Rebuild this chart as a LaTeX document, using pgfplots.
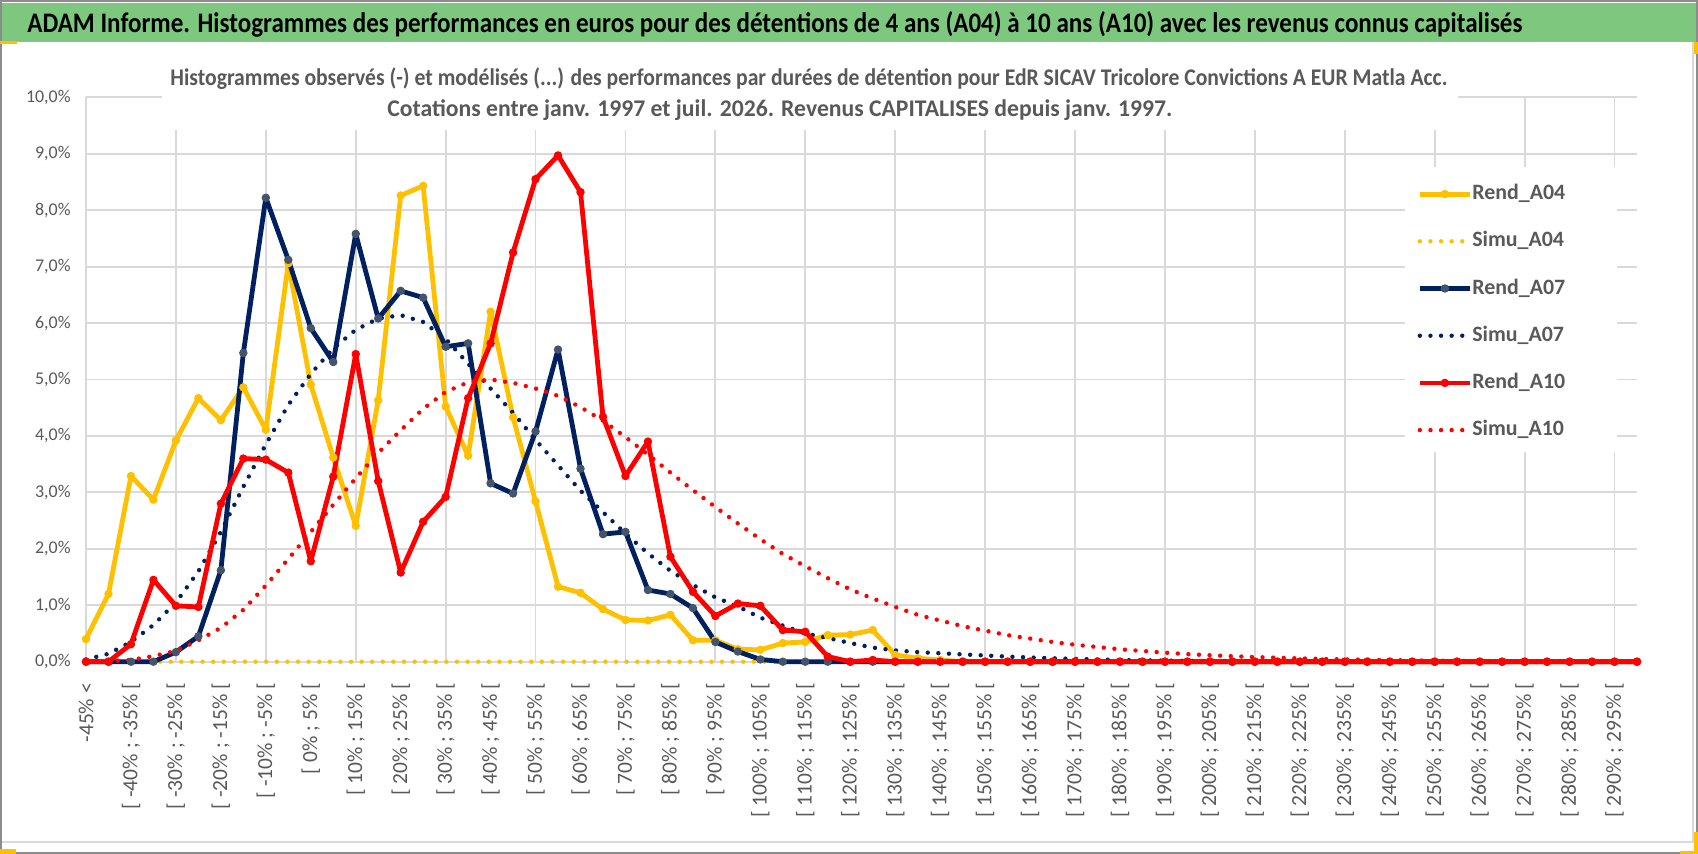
\documentclass[border=0pt]{standalone}
\usepackage{graphicx}
\usepackage{fontspec}
\setmainfont{Carlito}
\usepackage{pgfplots}
\usepackage{pgfplotstable}
\pgfplotsset{compat=1.18}

\definecolor{cgold}{HTML}{FFC000}
\definecolor{cnavy}{HTML}{002060}
\definecolor{cred}{HTML}{FF0000}
\definecolor{cmark}{HTML}{44546A}
\definecolor{ctext}{HTML}{595959}
\definecolor{cgrid}{HTML}{D9D9D9}
\definecolor{cgreen}{HTML}{7DC87E}
\definecolor{cborder}{HTML}{8C8C8C}

\pgfplotstableread{
i ra04 sa04 ra07 sa07 ra10 sa10
0 0.40 0 0 0.04 0 0
1 1.20 0 0 0.14 0 0.01
2 3.29 0 0 0.35 0.31 0.03
3 2.87 0 0 0.65 1.45 0.10
4 3.92 0 0.17 1.05 0.99 0.19
5 4.67 0 0.45 1.60 0.97 0.38
6 4.28 0 1.62 2.30 2.80 0.60
7 4.86 0 5.47 3.10 3.60 0.92
8 4.11 0 8.22 3.85 3.58 1.35
9 7.06 0 7.12 4.55 3.35 1.82
10 4.91 0 5.91 5.10 1.78 2.30
11 3.62 0 5.31 5.55 3.28 2.78
12 2.41 0 7.58 5.88 5.45 3.25
13 4.63 0 6.08 6.08 3.20 3.70
14 8.26 0 6.57 6.14 1.58 4.10
15 8.43 0 6.45 6.02 2.48 4.48
16 4.52 0 5.58 5.72 2.92 4.78
17 3.65 0 5.64 5.28 4.67 4.95
18 6.20 0 3.16 4.84 5.64 5.00
19 4.33 0 2.98 4.41 7.25 4.94
20 2.84 0 4.08 3.93 8.55 4.84
21 1.33 0 5.53 3.48 8.97 4.71
22 1.22 0 3.42 3.03 8.32 4.51
23 0.93 0 2.26 2.65 4.34 4.27
24 0.74 0 2.30 2.27 3.29 3.98
25 0.73 0 1.27 1.92 3.90 3.67
26 0.83 0 1.20 1.61 1.86 3.35
27 0.38 0 0.95 1.36 1.24 3.04
28 0.38 0 0.35 1.14 0.81 2.74
29 0.22 0 0.18 0.98 1.03 2.45
30 0.21 0 0.04 0.78 0.99 2.17
31 0.33 0 0 0.64 0.56 1.91
32 0.35 0 0 0.50 0.53 1.69
33 0.47 0 0 0.42 0.09 1.48
34 0.48 0 0 0.33 0 1.28
35 0.56 0 0 0.25 0.03 1.12
36 0.12 0 0 0.20 0 0.97
37 0.06 0 0 0.17 0 0.83
38 0.03 0 0 0.15 0 0.73
39 0 0 0 0.13 0 0.63
40 0 0 0 0.11 0 0.55
41 0 0 0 0.09 0 0.47
42 0 0 0 0.075 0 0.41
43 0 0 0 0.06 0 0.35
44 0 0 0 0.05 0 0.30
45 0 0 0 0.04 0 0.26
46 0 0 0 0.03 0 0.22
47 0 0 0 0.025 0 0.19
48 0 0 0 0.02 0 0.16
49 0 0 0 0.015 0 0.135
50 0 0 0 0.01 0 0.115
51 0 0 0 0.01 0 0.097
52 0 0 0 0.005 0 0.082
53 0 0 0 0 0 0.07
54 0 0 0 0 0 0.058
55 0 0 0 0 0 0.049
56 0 0 0 0 0 0.041
57 0 0 0 0 0 0.034
58 0 0 0 0 0 0.028
59 0 0 0 0 0 0.023
60 0 0 0 0 0 0.019
61 0 0 0 0 0 0.015
62 0 0 0 0 0 0.012
63 0 0 0 0 0 0.01
64 0 0 0 0 0 0.008
65 0 0 0 0 0 0.006
66 0 0 0 0 0 0.005
67 0 0 0 0 0 0.004
68 0 0 0 0 0 0.003
69 0 0 0 0 0 0.002
}\data

\begin{document}
\begin{tikzpicture}
\useasboundingbox (0,0) rectangle (849bp,427bp);
\fill[white] (0,0) rectangle (849bp,427bp);
% title band
\fill[cgreen] (0.5bp,406bp) rectangle (848.5bp,425.5bp);
\node[anchor=base west, inner sep=0pt] at (13.5bp,410.5bp)
  {\resizebox{747.5bp}{\height}{\fontsize{14.2}{16}\selectfont\bfseries ADAM Informe. Histogrammes des performances en euros pour des détentions de 4 ans (A04) à 10 ans (A10) avec les revenus connus capitalisés}};
% frames
\draw[cgrid, line width=0.8bp] (0.5bp,6bp) -- (846.5bp,6bp) -- (846.5bp,406bp);
\draw[cborder, line width=0.8bp] (0.4bp,0.4bp) rectangle (848.6bp,426.6bp);
\fill[cgold] (0,405bp) rectangle (8.5bp,406.6bp);
\fill[cgold] (0,0) rectangle (8bp,2.5bp);
\fill[cgold] (847bp,0) rectangle (849bp,11bp);
\fill[cgold] (840bp,0) rectangle (849bp,1.5bp);
\fill[cgold] (847bp,400bp) rectangle (849bp,406bp);

\begin{axis}[
  at={(43bp,96.15bp)}, anchor=south west,
  scale only axis, width=775.5bp, height=282.2bp,
  xmin=0, xmax=69, ymin=0, ymax=10,
  clip=false,
  axis line style={draw=none},
  major tick length=0pt, minor tick length=0pt,
  ytick={0,1,...,10},
  ymajorgrids,
  grid style={cgrid, line width=0.9bp},
  yticklabel={\pgfmathprintnumber[fixed,fixed zerofill,precision=1,use comma,assume math mode=true]{\tick}\%},
  yticklabel style={font=\fontsize{9}{10}\selectfont, text=ctext, anchor=east, inner sep=0pt},
  yticklabel shift=7.5bp,
  xtick={0,2,...,68},
  xticklabels={{-45\% <},{[ -40\% ; -35\% [},{[ -30\% ; -25\% [},{[ -20\% ; -15\% [},{[ -10\% ; -5\% [},{[ 0\% ; 5\% [},{[ 10\% ; 15\% [},{[ 20\% ; 25\% [},{[ 30\% ; 35\% [},{[ 40\% ; 45\% [},{[ 50\% ; 55\% [},{[ 60\% ; 65\% [},{[ 70\% ; 75\% [},{[ 80\% ; 85\% [},{[ 90\% ; 95\% [},{[ 100\% ; 105\% [},{[ 110\% ; 115\% [},{[ 120\% ; 125\% [},{[ 130\% ; 135\% [},{[ 140\% ; 145\% [},{[ 150\% ; 155\% [},{[ 160\% ; 165\% [},{[ 170\% ; 175\% [},{[ 180\% ; 185\% [},{[ 190\% ; 195\% [},{[ 200\% ; 205\% [},{[ 210\% ; 215\% [},{[ 220\% ; 225\% [},{[ 230\% ; 235\% [},{[ 240\% ; 245\% [},{[ 250\% ; 255\% [},{[ 260\% ; 265\% [},{[ 270\% ; 275\% [},{[ 280\% ; 285\% [},{[ 290\% ; 295\% [}},
  xticklabel style={rotate=90, anchor=east, font=\fontsize{10.8}{12}\selectfont, text=ctext, inner sep=0pt},
  xticklabel shift=10.5bp,
  extra x ticks={0,4,...,68},
  extra x tick labels={},
  extra x tick style={grid=major},
  legend style={at={(axis description cs:0.8582,0.8478)}, anchor=north west, draw=none, fill=none, inner sep=0pt,
    row sep=13.1bp, font=\fontsize{11}{13}\selectfont\bfseries,
    nodes={inner sep=0pt, text height=8bp, text depth=2.5bp, text=ctext},
    /tikz/every even column/.append style={column sep=2.5bp}},
  legend cell align=left,
  legend image code/.code={\draw[mark repeat=2,mark phase=2,#1] plot coordinates {(0bp,0bp) (12.5bp,0bp) (25bp,0bp)};},
  line join=round,
]
\fill[white] (axis cs:3.38,9.42) rectangle (axis cs:61.04,10.74);
\fill[white] (axis cs:58.68,3.72) rectangle (axis cs:68.11,8.76);

\addplot[cgold, line width=2.4bp, mark=*, mark size=1.85bp, mark options={solid, line width=0.5bp, fill=cgold, draw=cgold}] table[x=i,y=ra04]{\data};
\addlegendentry{Rend\_A04}
\addplot[cgold, line width=2.2bp, line cap=round, dash pattern=on 0bp off 5.3bp, mark=none] table[x=i,y=sa04]{\data};
\addlegendentry{Simu\_A04}
\addplot[cnavy, line width=2.4bp, mark=*, mark size=1.85bp, mark options={solid, line width=0.5bp, fill=cmark, draw=cmark}] table[x=i,y=ra07]{\data};
\addlegendentry{Rend\_A07}
\addplot[cnavy, line width=2.2bp, line cap=round, dash pattern=on 0bp off 5.3bp, mark=none] table[x=i,y=sa07]{\data};
\addlegendentry{Simu\_A07}
\addplot[cred, line width=2.4bp, mark=*, mark size=1.85bp, mark options={solid, line width=0.5bp, fill=cred, draw=cred}] table[x=i,y=ra10]{\data};
\addlegendentry{Rend\_A10}
\addplot[cred, line width=2.2bp, line cap=round, dash pattern=on 0bp off 5.3bp, mark=none] table[x=i,y=sa10]{\data};
\addlegendentry{Simu\_A10}
\end{axis}

\node[anchor=base west, inner sep=0pt] at (85bp,384bp)
  {\resizebox{638.5bp}{\height}{\fontsize{12}{14}\selectfont\bfseries\color{ctext}Histogrammes observés (-) et modélisés (...) des performances par durées de détention pour EdR SICAV Tricolore Convictions A EUR Matla Acc.}};
\node[anchor=base west, inner sep=0pt] at (193.5bp,368.5bp)
  {\resizebox{392.5bp}{\height}{\fontsize{12}{14}\selectfont\bfseries\color{ctext}Cotations entre janv. 1997 et juil. 2026. Revenus CAPITALISES depuis janv. 1997.}};
\end{tikzpicture}
\end{document}
